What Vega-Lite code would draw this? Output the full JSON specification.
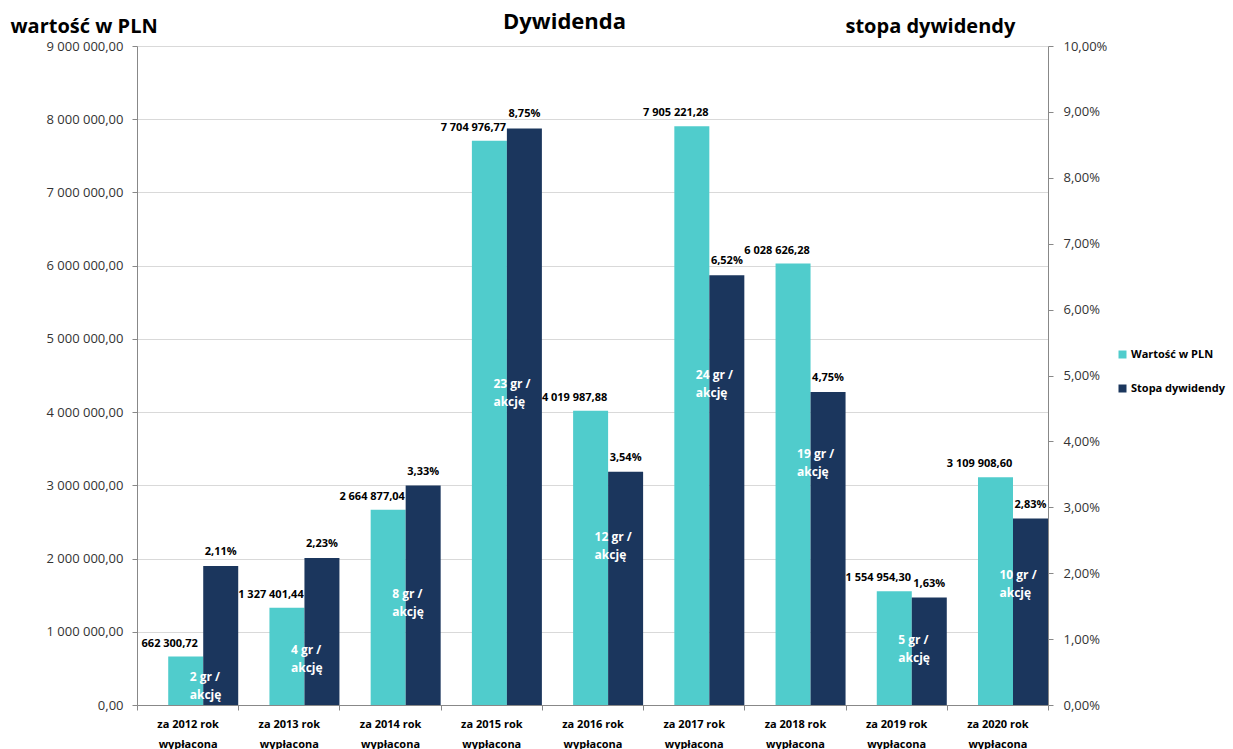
{
  "$schema": "https://vega.github.io/schema/vega-lite/v6.json",
  "width": 911,
  "height": 659,
  "autosize": {"type": "none"},
  "padding": {"left": 137, "top": 46, "right": 185, "bottom": 44},
  "background": "white",
  "config": {
    "locale": {"number": {"decimal": ",", "thousands": " ", "grouping": [3], "currency": ["", " zł"]}},
    "view": {"stroke": null},
    "font": "Open Sans",
    "legend": {
      "orient": "none", "legendX": 980, "legendY": 303, "symbolType": "square", "symbolSize": 64,
      "symbolStrokeWidth": 0, "labelFontSize": 11, "labelFontWeight": "bold", "labelFont": "Open Sans",
      "labelColor": "#000", "rowPadding": 22, "labelOffset": 3
    }
  },
  "title": {
    "text": "Dywidenda", "anchor": "middle", "frame": "group", "fontSize": 22, "fontWeight": "bold",
    "font": "Open Sans", "color": "#000", "baseline": "alphabetic", "offset": 0, "dx": -28, "dy": 35
  },
  "data": {
    "values": [
      {"rok": "za 2012 rok wypłacona", "seria": "Wartość w PLN", "wartosc": 662300.72, "naAkcje": "2 gr /\nakcję"},
      {"rok": "za 2013 rok wypłacona", "seria": "Wartość w PLN", "wartosc": 1327401.44, "naAkcje": "4 gr /\nakcję"},
      {"rok": "za 2014 rok wypłacona", "seria": "Wartość w PLN", "wartosc": 2664877.04, "naAkcje": "8 gr /\nakcję"},
      {"rok": "za 2015 rok wypłacona", "seria": "Wartość w PLN", "wartosc": 7704976.77, "naAkcje": "23 gr /\nakcję"},
      {"rok": "za 2016 rok wypłacona", "seria": "Wartość w PLN", "wartosc": 4019987.88, "naAkcje": "12 gr /\nakcję"},
      {"rok": "za 2017 rok wypłacona", "seria": "Wartość w PLN", "wartosc": 7905221.28, "naAkcje": "24 gr /\nakcję"},
      {"rok": "za 2018 rok wypłacona", "seria": "Wartość w PLN", "wartosc": 6028626.28, "naAkcje": "19 gr /\nakcję"},
      {"rok": "za 2019 rok wypłacona", "seria": "Wartość w PLN", "wartosc": 1554954.30, "naAkcje": "5 gr /\nakcję"},
      {"rok": "za 2020 rok wypłacona", "seria": "Wartość w PLN", "wartosc": 3109908.60, "naAkcje": "10 gr /\nakcję"},
      {"rok": "za 2012 rok wypłacona", "seria": "Stopa dywidendy", "wartosc": 0.0211},
      {"rok": "za 2013 rok wypłacona", "seria": "Stopa dywidendy", "wartosc": 0.0223},
      {"rok": "za 2014 rok wypłacona", "seria": "Stopa dywidendy", "wartosc": 0.0333},
      {"rok": "za 2015 rok wypłacona", "seria": "Stopa dywidendy", "wartosc": 0.0875},
      {"rok": "za 2016 rok wypłacona", "seria": "Stopa dywidendy", "wartosc": 0.0354},
      {"rok": "za 2017 rok wypłacona", "seria": "Stopa dywidendy", "wartosc": 0.0652},
      {"rok": "za 2018 rok wypłacona", "seria": "Stopa dywidendy", "wartosc": 0.0475},
      {"rok": "za 2019 rok wypłacona", "seria": "Stopa dywidendy", "wartosc": 0.0163},
      {"rok": "za 2020 rok wypłacona", "seria": "Stopa dywidendy", "wartosc": 0.0283}
    ]
  },
  "encoding": {
    "x": {
      "field": "rok", "type": "nominal", "sort": null,
      "scale": {"paddingInner": 0, "paddingOuter": 0},
      "axis": {
        "title": null, "labelAngle": 0, "labelFontSize": 11, "labelFontWeight": "bold", "labelColor": "#000",
        "labelLineHeight": 20, "labelPadding": 8, "tickBand": "extent", "tickSize": 5, "tickColor": "#888",
        "domainColor": "#888", "grid": false,
        "labelExpr": "[substring(datum.label, 0, 11), substring(datum.label, 12)]"
      }
    },
    "xOffset": {
      "field": "seria", "type": "nominal",
      "scale": {"domain": ["Wartość w PLN", "Stopa dywidendy"], "paddingInner": 0, "paddingOuter": 0.446, "align": 1}
    }
  },
  "layer": [
    {
      "transform": [{"filter": "datum.seria === 'Wartość w PLN'"}],
      "encoding": {
        "y": {
          "field": "wartosc", "type": "quantitative", "scale": {"domain": [0, 9000000]},
          "axis": {
            "values": [0, 1000000, 2000000, 3000000, 4000000, 5000000, 6000000, 7000000, 8000000, 9000000],
            "format": ",.2f", "grid": true, "gridColor": "#D9D9D9", "domainColor": "#888", "tickColor": "#888",
            "tickSize": 5, "labelFontSize": 13, "labelColor": "#333", "labelPadding": 9,
            "title": "wartość w PLN", "titleAngle": 0, "titleAlign": "left", "titleBaseline": "alphabetic",
            "titleX": -127, "titleY": -14, "titleFontSize": 20, "titleFontWeight": "bold", "titleColor": "#000",
            "titleFont": "Open Sans"
          }
        }
      },
      "layer": [
        {
          "mark": {"type": "bar"},
          "encoding": {
            "color": {
              "field": "seria", "type": "nominal",
              "scale": {"domain": ["Wartość w PLN", "Stopa dywidendy"], "range": ["#50CCCC", "#1B365D"]},
              "legend": {"title": null}
            }
          }
        },
        {
          "mark": {"type": "text", "dy": -13, "dx": -16, "fontWeight": "bold", "fontSize": 11, "baseline": "middle", "color": "#000"},
          "encoding": {"text": {"field": "wartosc", "type": "quantitative", "format": ",.2f"}}
        }
      ]
    },
    {
      "transform": [{"filter": "datum.seria === 'Stopa dywidendy'"}],
      "encoding": {
        "y": {
          "field": "wartosc", "type": "quantitative", "scale": {"domain": [0, 0.1]},
          "axis": {
            "orient": "right",
            "values": [0, 0.01, 0.02, 0.03, 0.04, 0.05, 0.06, 0.07, 0.08, 0.09, 0.1],
            "format": ".2%", "grid": false, "domainColor": "#888", "tickColor": "#888",
            "tickSize": 5, "labelFontSize": 13, "labelColor": "#333", "labelPadding": 10,
            "title": "stopa dywidendy", "titleAngle": 0, "titleAlign": "left", "titleBaseline": "alphabetic",
            "titleX": -203, "titleY": -14, "titleFontSize": 20, "titleFontWeight": "bold", "titleColor": "#000",
            "titleFont": "Open Sans"
          }
        }
      },
      "layer": [
        {
          "mark": {"type": "bar"},
          "encoding": {
            "color": {
              "field": "seria", "type": "nominal",
              "scale": {"domain": ["Wartość w PLN", "Stopa dywidendy"], "range": ["#50CCCC", "#1B365D"]},
              "legend": {"title": null}
            }
          }
        },
        {
          "mark": {"type": "text", "dy": -14, "fontWeight": "bold", "fontSize": 11, "baseline": "middle", "color": "#000"},
          "encoding": {"text": {"field": "wartosc", "type": "quantitative", "format": ".2%"}}
        }
      ]
    },
    {
      "transform": [{"filter": "datum.seria === 'Wartość w PLN'"}],
      "mark": {
        "type": "text", "align": "left", "baseline": "middle", "lineBreak": "\n", "lineHeight": 18,
        "fontSize": 12, "fontWeight": "bold", "color": "white", "dx": 4
      },
      "encoding": {
        "y": {"field": "wartosc", "type": "quantitative", "scale": {"domain": [0, 15800000]}, "axis": null},
        "text": {"field": "naAkcje", "type": "nominal"}
      }
    }
  ],
  "resolve": {"scale": {"y": "independent"}}
}
